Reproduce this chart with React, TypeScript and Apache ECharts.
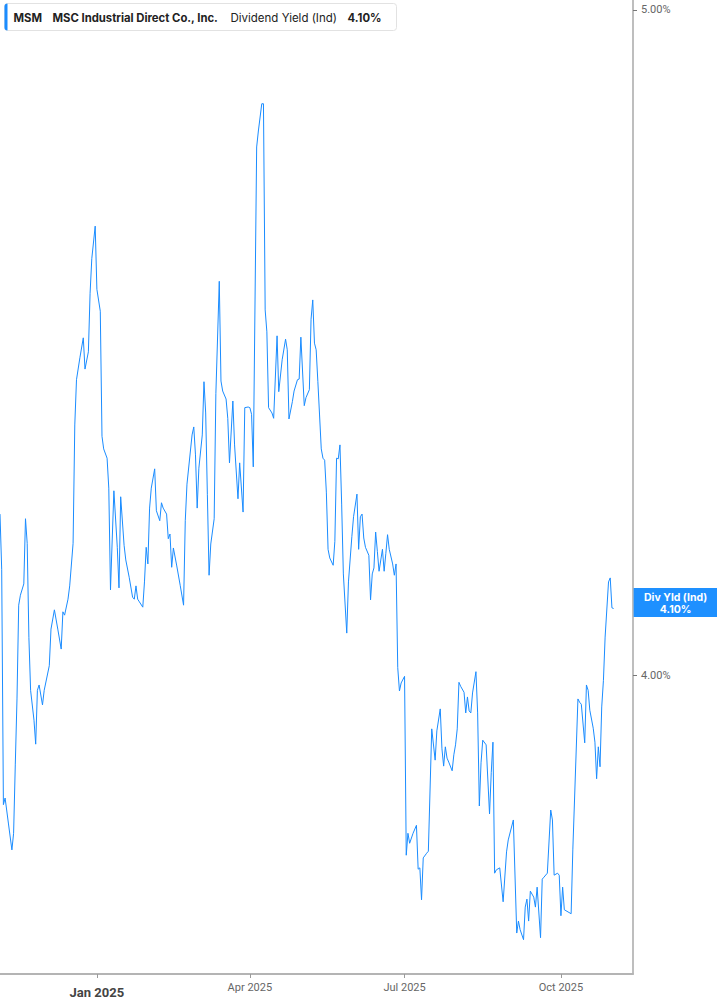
import React, { useEffect, useRef } from "react";
import * as echarts from "echarts";

// header texts
const ticker = "MSM";
const companyName = "MSC Industrial Direct Co., Inc.";
const metricName = "Dividend Yield (Ind)";
const lastValueText = "4.10%";
const endLabelTitle = "Div Yld (Ind)";

// trading days, counted in calendar days from 1 Jan 2025
const dayOffsets = [
  -57, -56, -55, -54, -52, -50, -49, -48, -47, -46, -45, -43, -42, -41, -40, -39, -37, -36, -35, -34,
  -32, -31, -28, -27, -25, -23, -21, -20, -19, -17, -16, -14, -13, -12, -10, -8, -7, -5, -4, -3,
  -1, 0, 2, 3, 4, 6, 7, 8, 10, 12, 13, 14, 16, 17, 19, 21, 22, 23, 24, 25,
  27, 28, 29, 30, 31, 32, 34, 35, 37, 38, 39, 41, 42, 43, 44, 45, 47, 49, 51, 52,
  53, 56, 57, 58, 59, 60, 62, 63, 64, 65, 66, 67, 69, 70, 72, 73, 74, 76, 77, 78,
  80, 81, 83, 84, 86, 87, 89, 90, 91, 92, 94, 95, 97, 98, 99, 100, 101, 103, 104, 106,
  107, 109, 111, 112, 113, 115, 116, 118, 119, 120, 122, 123, 125, 126, 127, 128, 129, 130, 131, 132,
  133, 134, 135, 136, 137, 139, 140, 141, 142, 143, 144, 145, 147, 148, 150, 151, 153, 154, 155, 156,
  157, 158, 160, 161, 162, 163, 164, 165, 166, 168, 169, 170, 171, 172, 174, 175, 176, 177, 178, 179,
  181, 182, 183, 184, 186, 188, 189, 190, 191, 192, 194, 195, 197, 199, 200, 202, 203, 204, 205, 206,
  207, 209, 210, 211, 212, 213, 214, 216, 217, 218, 219, 220, 221, 223, 224, 225, 226, 227, 229, 231,
  232, 233, 234, 235, 237, 239, 241, 242, 245, 247, 248, 249, 251, 252, 253, 254, 255, 257, 258, 259,
  261, 262, 263, 265, 267, 268, 269, 271, 272, 273, 274, 275, 279, 280, 281, 283, 284, 285, 287, 288,
  289, 290, 292, 293, 294, 295, 296, 297, 298, 299, 301, 302, 303, 304,
];

// dividend yield, %
const yieldPct = [
  4.242, 4.159, 3.805, 3.815, 3.776, 3.737, 3.762, 3.866, 3.964, 4.105, 4.12, 4.137, 4.235, 4.198, 4.056, 3.977, 3.932, 3.896, 3.977, 3.985,
  3.955, 3.977, 4.014, 4.069, 4.098, 4.069, 4.039, 4.095, 4.09, 4.114, 4.134, 4.198, 4.376, 4.444, 4.477, 4.507, 4.46, 4.486, 4.574, 4.626,
  4.675, 4.58, 4.547, 4.359, 4.34, 4.326, 4.281, 4.128, 4.277, 4.192, 4.131, 4.268, 4.195, 4.173, 4.147, 4.117, 4.114, 4.134, 4.114, 4.11,
  4.102, 4.14, 4.192, 4.167, 4.251, 4.281, 4.31, 4.247, 4.232, 4.259, 4.251, 4.242, 4.205, 4.212, 4.162, 4.191, 4.164, 4.135, 4.105, 4.232,
  4.287, 4.361, 4.373, 4.331, 4.251, 4.311, 4.361, 4.441, 4.394, 4.271, 4.15, 4.197, 4.235, 4.423, 4.592, 4.442, 4.427, 4.415, 4.386, 4.319,
  4.412, 4.346, 4.265, 4.319, 4.245, 4.402, 4.403, 4.402, 4.392, 4.313, 4.794, 4.818, 4.859, 4.859, 4.549, 4.516, 4.402, 4.394, 4.386, 4.51,
  4.426, 4.474, 4.505, 4.489, 4.385, 4.411, 4.427, 4.444, 4.445, 4.508, 4.405, 4.417, 4.429, 4.535, 4.564, 4.499, 4.489, 4.441, 4.391, 4.34,
  4.326, 4.323, 4.275, 4.189, 4.176, 4.165, 4.201, 4.326, 4.325, 4.346, 4.257, 4.152, 4.063, 4.14, 4.208, 4.238, 4.272, 4.189, 4.238, 4.242,
  4.206, 4.192, 4.18, 4.113, 4.152, 4.161, 4.215, 4.186, 4.156, 4.189, 4.156, 4.183, 4.211, 4.189, 4.167, 4.15, 4.167, 4.011, 3.976, 3.988,
  3.998, 3.729, 3.762, 3.747, 3.762, 3.774, 3.708, 3.71, 3.662, 3.725, 3.732, 3.735, 3.919, 3.872, 3.916, 3.949, 3.889, 3.863, 3.892, 3.875,
  3.869, 3.856, 3.88, 3.895, 3.919, 3.989, 3.983, 3.974, 3.943, 3.967, 3.946, 3.943, 3.973, 4.005, 3.943, 3.803, 3.868, 3.902, 3.895, 3.791,
  3.853, 3.899, 3.702, 3.707, 3.71, 3.659, 3.734, 3.752, 3.782, 3.612, 3.63, 3.617, 3.602, 3.651, 3.663, 3.63, 3.675, 3.666, 3.651, 3.681,
  3.605, 3.693, 3.696, 3.702, 3.797, 3.782, 3.699, 3.702, 3.699, 3.638, 3.681, 3.647, 3.641, 3.737, 3.812, 3.964, 3.959, 3.956, 3.898, 3.985,
  3.977, 3.947, 3.92, 3.899, 3.844, 3.892, 3.862, 3.952, 3.992, 4.057, 4.14, 4.146, 4.101, 4.1,
];

// axis ticks
const quarterTicks = ["2025-01-01", "2025-04-01", "2025-07-01", "2025-10-01"];
const quarterLabels = ["Jan 2025", "Apr 2025", "Jul 2025", "Oct 2025"];
const yTicks = [4, 5];
const xMaxDay = 315.4;
const yMin = 3.5504;
const yMax = 5.015;

const dayToTime = (d: number) => new Date(2025, 0, 1).getTime() + d * 86400000;
const parseDay = (s: string) => {
  const [y, m, d] = s.split("-").map(Number);
  return new Date(y, m - 1, d).getTime();
};

export default function App() {
  const chartRef = useRef<HTMLDivElement>(null);

  useEffect(() => {
    document.body.style.margin = "0";
    if (!chartRef.current) return;
    const chart = echarts.init(chartRef.current, null, { renderer: "svg" });

    const data = dayOffsets.map((d, i) => [dayToTime(d), yieldPct[i]]);
    const tickTimes = quarterTicks.map(parseDay);

    const headerFont = "11.5px Inter";
    const headerBold = "bold 11.3px Inter";

    const option = {
      animation: false,
      grid: { left: 0, right: 84, top: 0, bottom: 31, containLabel: false },
      xAxis: {
        // timestamps on a value axis, so the quarter ticks can be set exactly
        type: "value",
        min: dayToTime(dayOffsets[0]),
        max: dayToTime(xMaxDay),
        axisLine: { show: true, lineStyle: { color: "#b4b4b4", width: 2 } },
        axisTick: {
          show: true,
          customValues: tickTimes,
          length: 4,
          lineStyle: { color: "#9a9a9a", width: 1 },
        },
        splitLine: { show: false },
        axisLabel: {
          customValues: tickTimes,
          margin: 8,
          hideOverlap: false,
          formatter: (value: number) => {
            const i = tickTimes.findIndex((t) => Math.abs(t - value) < 86400000);
            if (i < 0) return "";
            return i === 0 ? `{b|${quarterLabels[i]}}` : `{n|${quarterLabels[i]}}`;
          },
          rich: {
            b: { fontFamily: "Roboto", fontSize: 13, fontWeight: "bold", color: "#444", padding: [4, 0, 0, 0] },
            n: { fontFamily: "Roboto", fontSize: 11, color: "#666" },
          },
        },
      },
      yAxis: {
        type: "value",
        position: "right",
        min: yMin,
        max: yMax,
        axisLine: { show: true, lineStyle: { color: "#a8a8a8", width: 1.5 } },
        axisTick: {
          show: true,
          customValues: yTicks,
          length: 4,
          lineStyle: { color: "#777", width: 1 },
        },
        splitLine: { show: false },
        axisLabel: {
          customValues: yTicks,
          margin: 8,
          fontFamily: "Roboto",
          fontSize: 11,
          color: "#666",
          formatter: (v: number) => v.toFixed(2) + "%",
        },
      },
      series: [
        {
          type: "line",
          data,
          showSymbol: false,
          symbol: "none",
          lineStyle: { color: "#1a8cff", width: 1 },
          itemStyle: { color: "#1a8cff" },
          endLabel: {
            show: true,
            distance: 20,
            offset: [0, -6],
            align: "left",
            verticalAlign: "middle",
            backgroundColor: "#1e90ff",
            width: 84,
            padding: [3, 0, 2, 0],
            formatter: () => `{t|${endLabelTitle}}\n{t|${lastValueText}}`,
            rich: {
              t: {
                fontFamily: "Inter",
                fontSize: 10.5,
                fontWeight: "bold",
                color: "#ffffff",
                lineHeight: 12,
                width: 84,
                align: "center",
              },
            },
          },
        },
      ],
      graphic: [
        {
          type: "group",
          left: 4,
          top: 3,
          children: [
            {
              type: "rect",
              shape: { x: 0, y: 0, width: 392, height: 27, r: 3 },
              style: { fill: "#ffffff", stroke: "#e2e2e2", lineWidth: 1 },
            },
            {
              type: "rect",
              shape: { x: 0, y: 0, width: 3, height: 27, r: [3, 0, 0, 3] },
              style: { fill: "#1a8cff" },
            },
            {
              type: "text",
              x: 9,
              y: 14,
              style: { text: ticker, font: headerBold, fill: "#222", verticalAlign: "middle" },
            },
            {
              type: "text",
              x: 48,
              y: 14,
              style: { text: companyName, font: headerBold, fill: "#222", verticalAlign: "middle" },
            },
            {
              type: "text",
              x: 226,
              y: 14,
              style: { text: metricName, font: headerFont, fill: "#222", verticalAlign: "middle" },
            },
            {
              type: "text",
              x: 343,
              y: 14,
              style: { text: lastValueText, font: headerBold, fill: "#222", verticalAlign: "middle" },
            },
          ],
        },
      ],
    };

    chart.setOption(option);
    return () => {
      chart.dispose();
    };
  }, []);

  return <div ref={chartRef} style={{ width: "717px", height: "1005px" }}></div>;
}
